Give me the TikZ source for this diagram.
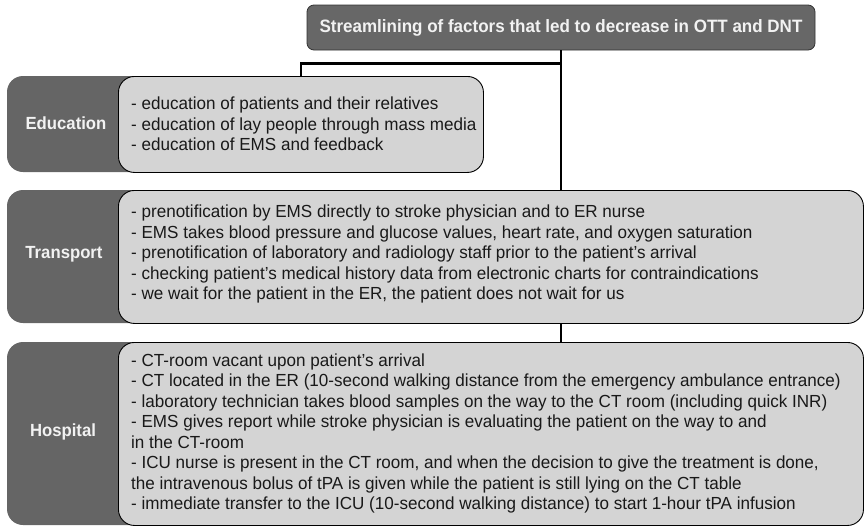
\documentclass[tikz,border=0pt]{standalone}
\usepackage{fontspec}
\setmainfont{Liberation Sans}
\newfontfamily\listfont{Liberation Sans}[FakeStretch=0.975]
\newfontfamily\headfont{Liberation Sans}[FakeStretch=0.95]
\usetikzlibrary{calc}

\definecolor{tabgray}{HTML}{656565}
\definecolor{headgray}{HTML}{676767}
\definecolor{itemgray}{HTML}{D4D4D4}
\definecolor{labelwhite}{HTML}{F2F2F2}

\tikzset{
  headbox/.style={draw=black!80, line width=0.8pt, fill=headgray, rounded corners=7pt,
    minimum width=508pt, minimum height=45pt, inner sep=0pt,
    text=labelwhite, font=\headfont\bfseries\fontsize{17.9}{20}\selectfont},
  itembox/.style={draw=black, line width=0.9pt, fill=itemgray, rounded corners=16pt,
    anchor=north west, inner sep=0pt},
  tabfill/.style={fill=tabgray, rounded corners=16pt},
  tablabel/.style={text=labelwhite, font=\headfont\bfseries\fontsize{17.6}{20}\selectfont, inner sep=0pt},
  itemtext/.style={anchor=west, align=left, inner sep=0pt, text=black!90,
    font=\listfont\fontsize{17.5}{20.5}\selectfont},
  link/.style={draw=black, line width=2.2pt}
}

\begin{document}
\begin{tikzpicture}[x=1pt, y=-1pt]
\useasboundingbox (0,0) rectangle (864,528);

% heading
\node[headbox] (title) at (561,27.5) {Streamlining of factors that led to decrease in OTT and DNT};

% dark tabs behind the item boxes
\fill[tabfill] (7,76) rectangle (160,172);
\fill[tabfill] (7,190) rectangle (160,323);
\fill[tabfill] (7,342) rectangle (160,525);

% item boxes
\node[itembox, minimum width=365pt, minimum height=96pt] (edu) at (118,76) {};
\node[itembox, minimum width=745pt, minimum height=133pt] (trans) at (118,190) {};
\node[itembox, minimum width=745pt, minimum height=183pt] (hosp) at (118,342) {};

% tab labels
\node[tablabel] (edulabel) at (66,123) {Education};
\node[tablabel] (translabel) at (64,254) {Transport};
\node[tablabel] (hosplabel) at (63,432) {Hospital};

% item lists
\node[itemtext] (eduitems) at (131,124) {%
- education of patients and their relatives\\
- education of lay people through mass media\\
- education of EMS and feedback};

\node[itemtext] (transitems) at (131,254) {%
- prenotification by EMS directly to stroke physician and to ER nurse\\
- EMS takes blood pressure and glucose values, heart rate, and oxygen saturation\\
- prenotification of laboratory and radiology staff prior to the patient’s arrival\\
- checking patient’s medical history data from electronic charts for contraindications\\
- we wait for the patient in the ER, the patient does not wait for us};

\node[itemtext] (hospitems) at (131,433.5) {%
- CT-room vacant upon patient’s arrival\\
- CT located in the ER (10-second walking distance from the emergency ambulance entrance)\\
- laboratory technician takes blood samples on the way to the CT room (including quick INR)\\
- EMS gives report while stroke physician is evaluating the patient on the way to and\\
in the CT-room\\
- ICU nurse is present in the CT room, and when the decision to give the treatment is done,\\
the intravenous bolus of tPA is given while the patient is still lying on the CT table\\
- immediate transfer to the ICU (10-second walking distance) to start 1-hour tPA infusion};

% connectors
\coordinate (fork) at ($(title.south)+(0,13)$);
\draw[link] (title.south) -- (title.south |- trans.north);
\draw[link] (title.south |- trans.south) -- (title.south |- hosp.north);
\draw[link] (fork) -| (edu.north);
\end{tikzpicture}
\end{document}
